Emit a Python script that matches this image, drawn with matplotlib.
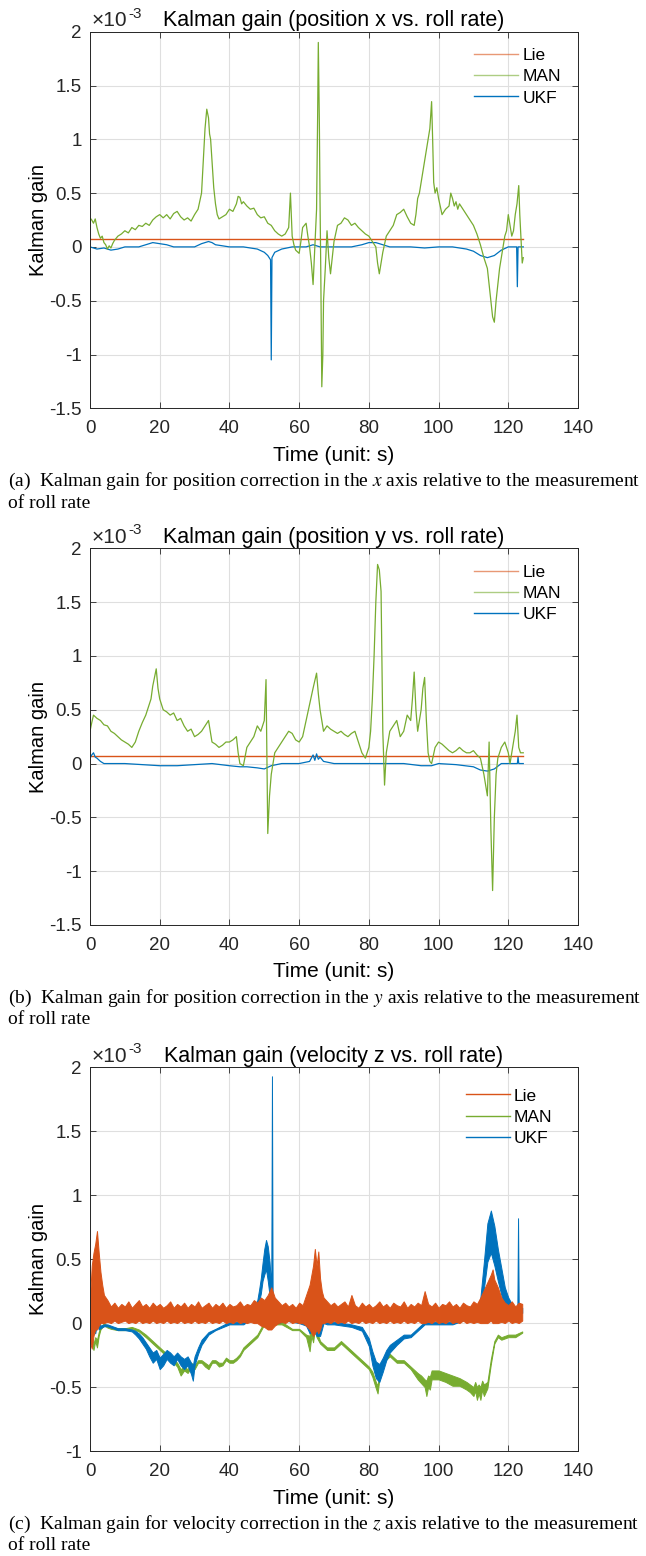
import numpy as np
import matplotlib
matplotlib.use('Agg')
import matplotlib.pyplot as plt
from matplotlib.lines import Line2D
from matplotlib.ticker import FuncFormatter, MultipleLocator
from matplotlib.transforms import offset_copy

plt.rcParams['font.family'] = ['Liberation Sans', 'DejaVu Sans']
plt.rcParams['mathtext.fontset'] = 'stix'

# gains in units of 1e-3, each series as (time [s], gain) samples

# --- position x vs. roll rate ---
lie_x = [(0, 0.07), (124.3, 0.07)]

man_x = [(0, 0.27), (0.5, 0.25), (1, 0.22), (1.5, 0.26), (2, 0.18), (2.5, 0.12), (3, 0.08), (3.5, 0.1),
         (4, 0.04), (4.5, 0.02), (5, -0.02), (5.5, 0.01), (6, -0.01), (6.5, 0.03), (7, 0.06), (8, 0.1),
         (9, 0.12), (10, 0.15), (11, 0.13), (12, 0.18), (13, 0.16), (14, 0.2), (15, 0.19), (16, 0.22),
         (17, 0.2), (18, 0.25), (19, 0.28), (20, 0.3), (21, 0.27), (22, 0.3), (23, 0.26), (24, 0.31),
         (25, 0.33), (26, 0.28), (27, 0.25), (28, 0.27), (29, 0.24), (30, 0.3), (31, 0.35), (32, 0.5),
         (32.5, 0.8), (33, 1.1), (33.5, 1.28), (34, 1.2), (34.3, 1.05), (34.6, 1.0), (35, 0.8),
         (35.5, 0.55), (36, 0.4), (36.5, 0.3), (37, 0.26), (38, 0.28), (39, 0.3), (40, 0.35), (41, 0.33),
         (42, 0.4), (42.5, 0.47), (43, 0.46), (43.5, 0.4), (44, 0.42), (45, 0.38), (46, 0.35), (47, 0.36),
         (48, 0.3), (49, 0.27), (50, 0.28), (51, 0.22), (52, 0.2), (53, 0.15), (54, 0.12), (55, 0.1),
         (56, 0.12), (57, 0.18), (57.5, 0.5), (58, 0.1), (58.5, 0.02), (59, -0.03), (60, -0.06),
         (60.5, 0.05), (61, 0.18), (62, 0.22), (62.5, 0.1), (63, 0.0), (63.5, -0.15), (64, -0.35),
         (64.5, 0.0), (65, 0.35), (65.3, 1.2), (65.5, 1.9), (65.8, 1.15), (66, 0.4), (66.2, -0.2),
         (66.5, -1.3), (66.8, -1.0), (67, -0.5), (67.5, -0.2), (68, 0.15), (68.5, -0.1), (69, -0.25),
         (69.5, -0.1), (70, 0.05), (71, 0.2), (72, 0.22), (73, 0.27), (74, 0.25), (75, 0.2), (76, 0.22),
         (77, 0.18), (78, 0.15), (79, 0.12), (80, 0.1), (81, 0.05), (82, 0.0), (82.5, -0.15), (83, -0.25),
         (83.5, -0.15), (84, -0.05), (85, 0.1), (86, 0.15), (87, 0.2), (88, 0.3), (89, 0.32), (90, 0.35),
         (91, 0.28), (92, 0.22), (93, 0.2), (93.5, 0.3), (94, 0.45), (94.5, 0.5), (95, 0.6), (96, 0.8),
         (96.5, 0.9), (97, 1.0), (97.5, 1.1), (98, 1.35), (98.3, 1.0), (98.6, 0.6), (99, 0.5),
         (99.5, 0.55), (100, 0.45), (101, 0.3), (102, 0.35), (103, 0.38), (103.5, 0.5), (104, 0.45),
         (104.5, 0.38), (105, 0.42), (105.5, 0.35), (106, 0.4), (107, 0.35), (108, 0.3), (109, 0.25),
         (110, 0.2), (111, 0.12), (112, 0.02), (113, -0.1), (114, -0.2), (114.5, -0.35), (115, -0.5),
         (115.5, -0.65), (116, -0.7), (116.5, -0.5), (117, -0.35), (117.5, -0.2), (118, -0.1),
         (118.5, 0.0), (119, 0.1), (119.5, 0.15), (120, 0.3), (120.5, 0.2), (121, 0.1), (121.5, 0.15),
         (122, 0.3), (122.5, 0.4), (123, 0.57), (123.3, 0.3), (123.6, 0.1), (124, -0.15), (124.3, -0.1)]

ukf_x = [(0, 0.0), (2, -0.02), (4, -0.01), (6, -0.03), (8, -0.02), (10, 0.0), (14, 0.0), (16, 0.02),
         (18, 0.04), (20, 0.03), (22, 0.02), (24, 0.0), (30, 0.0), (32, 0.03), (34, 0.05), (35, 0.04),
         (36, 0.02), (40, 0.0), (44, 0.0), (48, -0.02), (50, -0.05), (51, -0.08), (51.8, -0.12),
         (52, -1.05), (52.2, -0.1), (53, -0.05), (55, -0.02), (58, 0.0), (62, 0.0), (64, 0.02), (66, 0.0),
         (70, 0.0), (75, 0.0), (78, 0.02), (80, 0.04), (82, 0.04), (84, 0.02), (86, 0.0), (92, 0.0),
         (96, -0.01), (100, 0.0), (104, 0.0), (108, -0.02), (110, -0.04), (112, -0.08), (114, -0.1),
         (116, -0.08), (118, -0.03), (120, 0.0), (122.4, 0.0), (122.6, -0.37), (122.8, 0.0), (124.3, 0.0)]

# --- position y vs. roll rate ---
lie_y = [(0, 0.07), (124.3, 0.07)]

man_y = [(0, 0.3), (0.5, 0.38), (1, 0.45), (2, 0.42), (3, 0.4), (4, 0.36), (5, 0.35), (6, 0.3), (7, 0.28),
         (8, 0.25), (9, 0.22), (10, 0.2), (11, 0.18), (12, 0.15), (13, 0.2), (14, 0.3), (15, 0.38),
         (16, 0.45), (17, 0.55), (17.5, 0.6), (18, 0.72), (18.5, 0.8), (19, 0.88), (19.5, 0.7), (20, 0.6),
         (21, 0.5), (22, 0.48), (23, 0.45), (24, 0.47), (25, 0.4), (26, 0.42), (27, 0.35), (28, 0.3),
         (29, 0.32), (30, 0.25), (31, 0.27), (32, 0.3), (33, 0.35), (34, 0.4), (34.5, 0.3), (35, 0.2),
         (36, 0.18), (37, 0.15), (38, 0.17), (39, 0.2), (40, 0.2), (41, 0.22), (42, 0.25), (42.5, 0.1),
         (43, 0.0), (44, -0.02), (45, 0.15), (46, 0.2), (47, 0.25), (48, 0.35), (49, 0.3), (50, 0.4),
         (50.5, 0.78), (51, -0.65), (51.5, -0.3), (52, -0.1), (53, 0.1), (54, 0.15), (55, 0.2), (56, 0.25),
         (57, 0.3), (58, 0.28), (59, 0.22), (60, 0.2), (61, 0.25), (62, 0.4), (63, 0.55), (64, 0.7),
         (65, 0.84), (65.5, 0.65), (66, 0.5), (67, 0.3), (68, 0.35), (69, 0.32), (70, 0.3), (71, 0.28),
         (72, 0.3), (73, 0.27), (74, 0.25), (75, 0.28), (76, 0.3), (77, 0.2), (78, 0.1), (79, 0.05),
         (80, 0.15), (80.5, 0.3), (81, 0.6), (81.5, 1.0), (82, 1.5), (82.5, 1.85), (83, 1.8), (83.5, 1.6),
         (84, 0.3), (84.5, -0.2), (85, 0.1), (86, 0.3), (87, 0.35), (88, 0.4), (89, 0.25), (90, 0.3),
         (91, 0.45), (92, 0.4), (92.5, 0.6), (93, 0.85), (93.5, 0.5), (94, 0.3), (95, 0.5), (95.5, 0.7),
         (96, 0.8), (96.5, 0.4), (97, 0.1), (97.5, 0.02), (98, 0.0), (99, 0.15), (100, 0.2), (101, 0.18),
         (102, 0.15), (103, 0.12), (104, 0.1), (105, 0.12), (106, 0.15), (107, 0.12), (108, 0.1),
         (109, 0.1), (110, 0.12), (111, 0.08), (112, 0.05), (113, -0.1), (113.5, -0.2), (114, -0.3),
         (114.5, 0.2), (115, -0.6), (115.5, -1.18), (116, -0.5), (116.5, -0.1), (117, 0.05), (117.5, 0.1),
         (118, 0.15), (119, 0.2), (120, 0.1), (120.5, 0.0), (121, 0.1), (121.5, 0.2), (122, 0.3),
         (122.5, 0.45), (123, 0.15), (123.5, 0.1), (124.3, 0.1)]

ukf_y = [(0, 0.05), (0.5, 0.08), (1, 0.1), (1.5, 0.06), (2, 0.05), (3, 0.02), (4, 0.0), (6, 0.0),
         (10, 0.0), (15, -0.01), (20, -0.02), (25, -0.02), (30, -0.01), (35, 0.0), (40, -0.02),
         (43, -0.03), (45, -0.03), (48, -0.04), (50, -0.05), (52, -0.02), (55, 0.0), (60, 0.0), (63, 0.02),
         (64, 0.08), (64.5, 0.03), (65, 0.09), (65.5, 0.04), (66, 0.06), (67, 0.02), (70, 0.0), (80, 0.0),
         (90, 0.0), (95, -0.02), (98, -0.02), (100, 0.0), (105, -0.01), (110, -0.03), (112, -0.06),
         (114, -0.07), (116, -0.05), (118, 0.0), (122.6, 0.0), (122.8, 0.06), (123, 0.0), (124.3, 0.0)]

# --- velocity z vs. roll rate ---
# these traces oscillate densely, kept as (time, lower, upper) envelopes
lie_z = [(0, -0.15, 0.2), (0.5, -0.2, 0.45), (1, -0.1, 0.55), (1.5, -0.05, 0.62), (2, -0.05, 0.72),
         (2.5, -0.02, 0.55), (3, 0.0, 0.4), (3.5, 0.0, 0.3), (4, 0.0, 0.22), (5, 0.01, 0.18), (6, 0.0, 0.13),
         (7, 0.02, 0.16), (8, 0.0, 0.12), (9, 0.01, 0.15), (10, 0.02, 0.13), (11, 0.0, 0.17), (12, 0.01, 0.12),
         (13, 0.0, 0.15), (14, 0.02, 0.18), (15, 0.0, 0.13), (16, 0.01, 0.15), (17, 0.0, 0.12),
         (18, 0.02, 0.16), (19, 0.0, 0.13), (20, 0.01, 0.15), (21, 0.0, 0.12), (22, 0.02, 0.14),
         (23, 0.0, 0.17), (24, 0.01, 0.12), (25, 0.0, 0.15), (26, 0.02, 0.13), (27, 0.0, 0.16),
         (28, 0.01, 0.12), (29, 0.0, 0.15), (30, 0.02, 0.13), (31, 0.0, 0.17), (32, 0.01, 0.12),
         (33, 0.0, 0.14), (34, 0.02, 0.16), (35, 0.0, 0.12), (36, 0.01, 0.15), (37, 0.0, 0.13),
         (38, 0.02, 0.16), (39, 0.0, 0.12), (40, 0.01, 0.15), (41, 0.0, 0.13), (42, 0.02, 0.14),
         (43, 0.0, 0.17), (44, 0.01, 0.13), (45, 0.0, 0.15), (46, 0.01, 0.14), (47, 0.0, 0.18),
         (48, 0.0, 0.16), (49, -0.02, 0.2), (50, -0.03, 0.18), (51, -0.05, 0.22), (52, -0.05, 0.28),
         (53, -0.02, 0.2), (54, 0.0, 0.17), (55, 0.01, 0.14), (56, 0.0, 0.16), (57, 0.02, 0.13),
         (58, 0.0, 0.15), (59, 0.01, 0.12), (60, 0.0, 0.16), (61, 0.0, 0.14), (62, -0.02, 0.22),
         (63, -0.05, 0.3), (64, -0.1, 0.45), (64.5, -0.08, 0.58), (65, -0.05, 0.45), (65.5, -0.08, 0.56),
         (66, -0.05, 0.35), (66.5, 0.0, 0.25), (67, 0.0, 0.2), (68, 0.01, 0.17), (69, 0.0, 0.14),
         (70, 0.02, 0.16), (71, 0.0, 0.13), (72, 0.01, 0.15), (73, 0.0, 0.17), (74, 0.02, 0.13),
         (75, 0.0, 0.22), (76, 0.01, 0.14), (77, 0.0, 0.12), (78, 0.02, 0.16), (79, 0.0, 0.13),
         (80, 0.01, 0.15), (81, 0.0, 0.12), (82, 0.02, 0.14), (83, 0.0, 0.17), (84, 0.01, 0.13),
         (85, 0.0, 0.15), (86, 0.02, 0.12), (87, 0.0, 0.16), (88, 0.01, 0.14), (89, 0.0, 0.13),
         (90, 0.02, 0.17), (91, 0.0, 0.12), (92, 0.01, 0.15), (93, 0.0, 0.13), (94, 0.02, 0.16),
         (95, 0.0, 0.14), (96, 0.0, 0.25), (97, 0.01, 0.15), (98, 0.0, 0.13), (99, 0.02, 0.16),
         (100, 0.0, 0.12), (101, 0.01, 0.15), (102, 0.0, 0.14), (103, 0.02, 0.17), (104, 0.0, 0.13),
         (105, 0.01, 0.15), (106, 0.0, 0.12), (107, 0.02, 0.16), (108, 0.0, 0.14), (109, 0.01, 0.13),
         (110, 0.0, 0.17), (111, 0.01, 0.15), (112, 0.0, 0.2), (113, 0.0, 0.26), (114, 0.0, 0.32),
         (115, 0.02, 0.38), (115.5, 0.0, 0.42), (116, 0.0, 0.34), (117, 0.0, 0.28), (118, 0.01, 0.2),
         (119, 0.0, 0.16), (120, 0.02, 0.14), (121, 0.0, 0.17), (122, 0.01, 0.13), (123, 0.0, 0.16),
         (124, 0.02, 0.15)]

man_z = [(0, -0.07, -0.04), (0.5, -0.16, -0.12), (1, -0.21, -0.16), (1.5, -0.14, -0.11), (2, -0.19, -0.13),
         (2.5, -0.1, -0.07), (3, -0.05, -0.03), (4, -0.015, 0.0), (5, -0.035, -0.02), (6, -0.045, -0.03),
         (8, -0.055, -0.04), (10, -0.055, -0.04), (12, -0.045, -0.03), (14, -0.065, -0.05),
         (16, -0.11, -0.09), (18, -0.16, -0.14), (20, -0.21, -0.19), (22, -0.26, -0.24), (24, -0.31, -0.28),
         (25, -0.34, -0.31), (26, -0.41, -0.36), (27, -0.37, -0.34), (28, -0.39, -0.36), (29, -0.35, -0.31),
         (30, -0.36, -0.33), (31, -0.31, -0.29), (32, -0.31, -0.29), (33, -0.34, -0.31), (34, -0.36, -0.33),
         (35, -0.31, -0.29), (36, -0.31, -0.29), (37, -0.34, -0.31), (38, -0.33, -0.31), (39, -0.29, -0.27),
         (40, -0.31, -0.29), (41, -0.31, -0.29), (42, -0.29, -0.27), (43, -0.26, -0.24), (44, -0.21, -0.19),
         (46, -0.16, -0.14), (48, -0.11, -0.09), (50, -0.01, 0.01), (52, -0.01, 0.01), (55, -0.01, 0.01),
         (58, -0.055, -0.045), (60, -0.055, -0.045), (62, -0.11, -0.09), (63, -0.22, -0.1),
         (63.5, -0.1, 0.1), (64, -0.15, 0.0), (64.5, -0.05, 0.08), (65, -0.11, -0.06), (66, -0.16, -0.14),
         (68, -0.21, -0.19), (70, -0.21, -0.19), (72, -0.16, -0.14), (74, -0.21, -0.19), (76, -0.26, -0.24),
         (78, -0.31, -0.29), (80, -0.36, -0.34), (81, -0.42, -0.38), (82, -0.51, -0.46),
         (82.5, -0.55, -0.49), (83, -0.44, -0.39), (84, -0.31, -0.29), (86, -0.26, -0.24),
         (88, -0.31, -0.29), (90, -0.31, -0.29), (92, -0.36, -0.34), (94, -0.44, -0.39), (95, -0.47, -0.41),
         (96, -0.5, -0.44), (96.5, -0.57, -0.45), (97, -0.5, -0.41), (97.5, -0.52, -0.42),
         (98, -0.44, -0.37), (100, -0.44, -0.37), (102, -0.46, -0.39), (104, -0.49, -0.41),
         (106, -0.49, -0.43), (108, -0.52, -0.46), (109, -0.54, -0.48), (110, -0.57, -0.5),
         (110.5, -0.53, -0.46), (111, -0.6, -0.5), (111.5, -0.55, -0.48), (112, -0.6, -0.5),
         (112.5, -0.52, -0.45), (113, -0.57, -0.48), (114, -0.51, -0.46), (115, -0.32, -0.28),
         (116, -0.16, -0.14), (117, -0.11, -0.09), (118, -0.13, -0.11), (120, -0.11, -0.09),
         (122, -0.11, -0.09), (124, -0.075, -0.065)]

ukf_z = [(0, 0.0, 0.0), (0.5, -0.1, 0.05), (1, -0.05, 0.15), (1.5, -0.08, 0.1), (2, 0.0, 0.15),
         (2.5, -0.05, 0.05), (3, -0.04, -0.02), (4, -0.025, -0.01), (5, -0.025, -0.01), (6, -0.035, -0.02),
         (8, -0.055, -0.04), (10, -0.055, -0.04), (12, -0.065, -0.05), (13, -0.09, -0.06), (14, -0.12, -0.08),
         (15, -0.16, -0.11), (16, -0.2, -0.15), (17, -0.26, -0.19), (18, -0.31, -0.23), (19, -0.28, -0.21),
         (20, -0.36, -0.27), (21, -0.33, -0.24), (22, -0.28, -0.21), (23, -0.31, -0.23), (24, -0.33, -0.26),
         (25, -0.28, -0.23), (26, -0.33, -0.26), (27, -0.36, -0.28), (28, -0.33, -0.26), (29, -0.4, -0.31),
         (29.5, -0.45, -0.33), (30, -0.33, -0.26), (31, -0.24, -0.19), (32, -0.17, -0.13),
         (34, -0.09, -0.07), (36, -0.055, -0.045), (40, -0.01, 0.01), (44, -0.01, 0.01), (46, 0.03, 0.06),
         (47, 0.07, 0.11), (48, 0.12, 0.18), (48.5, 0.17, 0.26), (49, 0.23, 0.35), (49.5, 0.33, 0.47),
         (50, 0.38, 0.58), (50.5, 0.42, 0.65), (51, 0.33, 0.6), (51.5, 0.22, 0.48), (52, 0.12, 0.28),
         (52.2, 0.1, 1.93), (52.4, 0.06, 0.14), (53, 0.03, 0.09), (54, 0.0, 0.05), (56, 0.02, 0.06),
         (58, 0.01, 0.04), (60, 0.0, 0.03), (62, -0.02, 0.02), (63, -0.08, 0.05), (64, -0.05, 0.25),
         (65, -0.1, 0.3), (66, -0.1, 0.12), (67, 0.0, 0.06), (68, -0.01, 0.02), (70, -0.01, 0.01),
         (75, -0.03, -0.01), (78, -0.06, -0.03), (80, -0.18, -0.12), (81, -0.33, -0.22), (82, -0.43, -0.3),
         (83, -0.46, -0.32), (84, -0.38, -0.27), (85, -0.29, -0.21), (86, -0.23, -0.17), (88, -0.17, -0.13),
         (90, -0.12, -0.09), (92, -0.11, -0.09), (94, -0.06, -0.04), (96, -0.01, 0.01), (100, -0.01, 0.01),
         (104, -0.01, 0.01), (108, 0.03, 0.06), (110, 0.04, 0.07), (111, 0.06, 0.1), (112, 0.1, 0.2),
         (113, 0.27, 0.48), (114, 0.48, 0.78), (115, 0.55, 0.88), (116, 0.45, 0.76), (117, 0.33, 0.58),
         (118, 0.22, 0.43), (119, 0.13, 0.28), (120, 0.1, 0.2), (121, 0.08, 0.15), (122, 0.08, 0.12),
         (122.6, 0.08, 0.12), (122.8, 0.08, 0.82), (123, 0.08, 0.12), (124, 0.08, 0.12)]

c_lie = '#D95319'
c_man = '#77AC30'
c_ukf = '#0072BD'

W, H = 646, 1556
fig = plt.figure(figsize=(W / 100, H / 100), dpi=100)


def make_axes(top, bottom):
    ax = fig.add_axes([90 / W, 1 - bottom / H, 488 / W, (bottom - top) / H])
    ax.h_px = bottom - top
    return ax


def draw(ax, series, color, lw=0.9):
    t, v = zip(*series)
    ax.plot(t, v, color=color, lw=lw)


def draw_band(ax, series, color):
    t, lo, hi = zip(*series)
    ax.fill_between(t, lo, hi, facecolor=color, edgecolor=color, lw=0.7)


def style_axes(ax, title, ylim):
    ax.set_xlim(0, 140)
    ax.set_ylim(*ylim)
    ax.xaxis.set_major_locator(MultipleLocator(20))
    ax.yaxis.set_major_locator(MultipleLocator(0.5))
    ax.yaxis.set_major_formatter(FuncFormatter(lambda v, p: '%g' % round(v, 3)))
    ax.grid(True, color='#dfdfdf', linewidth=0.8)
    ax.set_axisbelow(True)
    ax.tick_params(direction='in', top=True, right=True, length=4, width=0.6,
                   color='#262626', labelsize=13.5, labelcolor='#262626')
    ax.tick_params(axis='x', pad=8.5)
    ax.tick_params(axis='y', pad=6)
    for s in ax.spines.values():
        s.set_color('#262626')
        s.set_linewidth(0.7)
    ax.set_title(title, fontsize=15.5, color='#000000', pad=4)
    ax.set_xlabel('Time (unit: s)', fontsize=15)
    ax.xaxis.label.set_va('center')
    ax.xaxis.set_label_coords(0.5, -47 / ax.h_px)
    ax.set_ylabel('Kalman gain', fontsize=14.5)
    ax.yaxis.set_label_coords(-0.086, 0.5)
    ax.text(0, 1, '×10', fontsize=15, ha='left', va='center', color='#262626',
            transform=offset_copy(ax.transAxes, fig, x=1.5, y=11, units='dots'))
    ax.text(0, 1, '-3', fontsize=11, ha='left', va='center', color='#262626',
            transform=offset_copy(ax.transAxes, fig, x=38, y=18, units='dots'))


def add_legend(ax, x0, y0, alpha=1.0):
    handles = [Line2D([], [], color=c_lie, lw=1.0, alpha=alpha),
               Line2D([], [], color=c_man, lw=1.0, alpha=alpha),
               Line2D([], [], color=c_ukf, lw=1.0)]
    ax.legend(handles, ['Lie', 'MAN', 'UKF'], loc='upper left', frameon=False, fontsize=12.5,
              borderpad=0, borderaxespad=0, handlelength=2.53, handletextpad=0.25,
              labelspacing=0.34, bbox_to_anchor=(x0, y0))


# (a) position x
ax1 = make_axes(31.7, 408.3)
draw(ax1, lie_x, c_lie, 1.0)
draw(ax1, ukf_x, c_ukf)
draw(ax1, man_x, c_man)
style_axes(ax1, 'Kalman gain (position x vs. roll rate)', (-1.5, 2))
add_legend(ax1, 0.787, 0.956, alpha=0.6)

# (b) position y
ax2 = make_axes(548.3, 925)
draw(ax2, lie_y, c_lie, 1.0)
draw(ax2, ukf_y, c_ukf)
draw(ax2, man_y, c_man)
style_axes(ax2, 'Kalman gain (position y vs. roll rate)', (-1.5, 2))
add_legend(ax2, 0.787, 0.956, alpha=0.6)

# (c) velocity z
ax3 = make_axes(1067.3, 1451)
draw_band(ax3, man_z, c_man)
draw_band(ax3, ukf_z, c_ukf)
draw_band(ax3, lie_z, c_lie)
style_axes(ax3, 'Kalman gain (velocity z vs. roll rate)', (-1, 2))
add_legend(ax3, 0.770, 0.945)

captions = [
    (481, 503, 'position', 'x'),
    (998, 1020, 'position', 'y'),
    (1524, 1546, 'velocity', 'z'),
]
for tag, (y1, y2, kind, axis) in zip('abc', captions):
    fig.text(8 / W, 1 - y1 / H,
             '(%s)  Kalman gain for %s correction in the $%s$ axis relative to the measurement'
             % (tag, kind, axis),
             fontsize=14, family='Liberation Serif', va='center', ha='left')
    fig.text(8 / W, 1 - y2 / H, 'of roll rate', fontsize=14, family='Liberation Serif',
             va='center', ha='left')

fig.savefig('out.png', dpi=100)
